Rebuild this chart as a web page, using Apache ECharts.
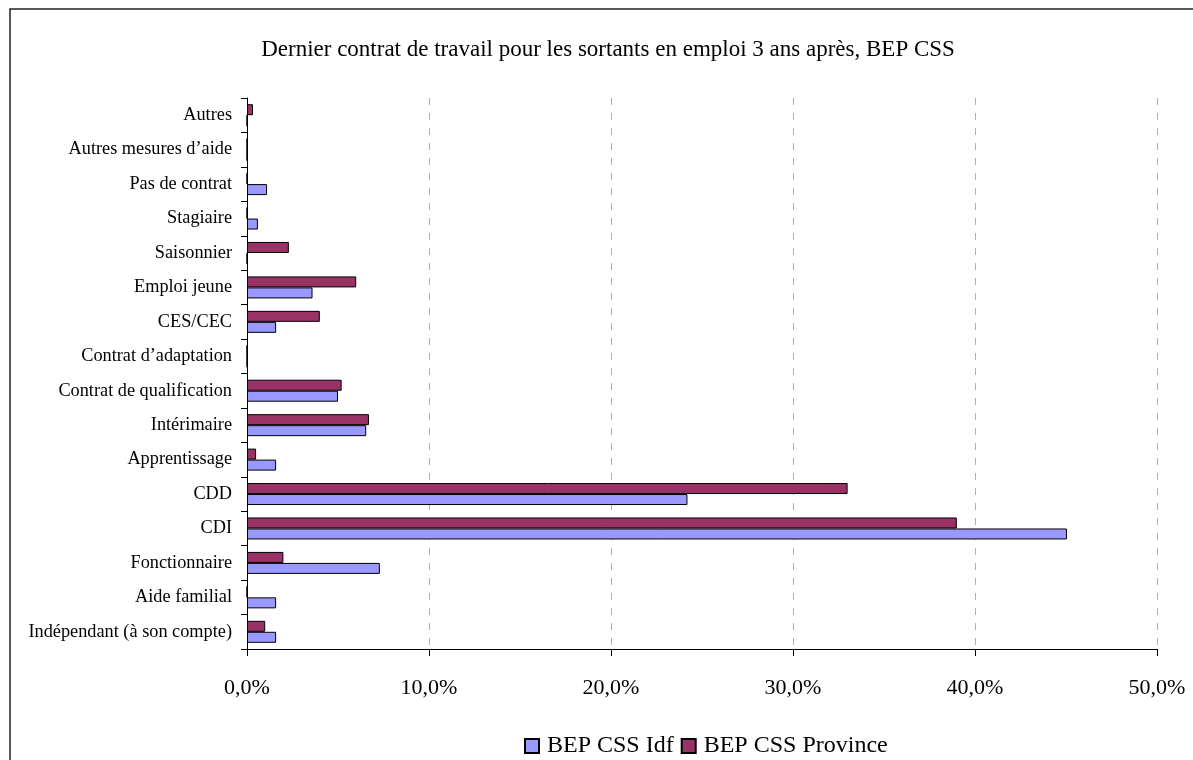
<!DOCTYPE html>
<html>
<head>
<meta charset="utf-8">
<script src="https://cdn.jsdelivr.net/npm/echarts@6/dist/echarts.min.js"></script>
<style>
  html, body { margin: 0; padding: 0; background: #fff; }
  #chart { width: 1193px; height: 760px; }
</style>
</head>
<body>
<div id="chart"></div>
<script>
// Contract types, listed from the bottom of the axis to the top
const categories = [
  'Indépendant (à son compte)', 'Aide familial', 'Fonctionnaire', 'CDI', 'CDD',
  'Apprentissage', 'Intérimaire', 'Contrat de qualification', 'Contrat d’adaptation',
  'CES/CEC', 'Emploi jeune', 'Saisonnier', 'Stagiaire', 'Pas de contrat',
  'Autres mesures d’aide', 'Autres'
];
// Share of leavers (%) per contract type
const idfValues = [1.6, 1.6, 7.3, 45.05, 24.2, 1.6, 6.55, 5.0, 0, 1.6, 3.6, 0, 0.6, 1.1, 0, 0];
const provinceValues = [1.0, 0, 2.0, 39.0, 33.0, 0.5, 6.7, 5.2, 0, 4.0, 6.0, 2.3, 0, 0, 0, 0.33];
const seriesNames = ['BEP CSS Idf', 'BEP CSS Province'];
const titleText = 'Dernier contrat de travail pour les sortants en emploi 3 ans après, BEP CSS';

const serif = '"Liberation Serif", "Times New Roman", serif';
const chart = echarts.init(document.getElementById('chart'));

// Province is listed first so that its bar sits above the Idf bar in each row
chart.setOption({
  animation: false,
  backgroundColor: '#fff',
  textStyle: { fontFamily: serif, color: '#000' },
  title: {
    text: titleText,
    left: 603,
    textAlign: 'center',
    top: 33,
    textStyle: { fontFamily: serif, fontSize: 23, fontWeight: 'normal', color: '#000' }
  },
  legend: {
    data: seriesNames,
    left: 519,
    top: 729,
    icon: 'rect',
    itemWidth: 14,
    itemHeight: 14,
    itemGap: 7,
    textStyle: { fontFamily: serif, fontSize: 24, color: '#000', padding: [0, 0, 0, 3] }
  },
  grid: { left: 247, right: 36, top: 98, bottom: 111, containLabel: false },
  xAxis: {
    type: 'value',
    min: 0,
    max: 50,
    interval: 10,
    axisLine: { show: true, lineStyle: { color: '#000', width: 1 } },
    axisTick: { show: true, length: 7, lineStyle: { color: '#000' } },
    axisLabel: {
      margin: 28,
      fontFamily: serif,
      fontSize: 22,
      color: '#000',
      formatter: v => v.toFixed(1).replace('.', ',') + '%'
    },
    splitLine: { show: true, lineStyle: { color: '#b0b0b0', type: [7, 8], width: 1 } }
  },
  yAxis: {
    type: 'category',
    data: categories,
    axisLine: { show: true, lineStyle: { color: '#000', width: 1 } },
    axisTick: { show: true, length: 6, lineStyle: { color: '#000' } },
    axisLabel: { margin: 15, fontFamily: serif, fontSize: 18.3, color: '#000' },
    splitLine: { show: false }
  },
  series: [
    {
      name: seriesNames[1],
      type: 'bar',
      data: provinceValues,
      barWidth: 11,
      barGap: '0%',
      itemStyle: { color: '#993366', borderColor: '#000', borderWidth: 1 }
    },
    {
      name: seriesNames[0],
      type: 'bar',
      data: idfValues,
      barWidth: 11,
      barGap: '0%',
      itemStyle: { color: '#9999ff', borderColor: '#000', borderWidth: 1 }
    }
  ],
  graphic: [
    {
      type: 'rect',
      shape: { x: 10, y: 9, width: 1200, height: 800 },
      style: { fill: 'none', stroke: '#222', lineWidth: 1.5 },
      silent: true
    }
  ]
});
</script>
</body>
</html>
